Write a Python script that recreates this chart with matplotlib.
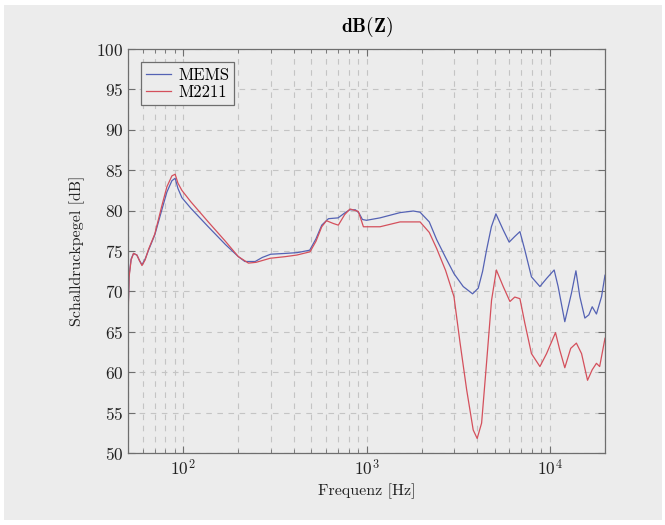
import numpy as np
import matplotlib.pyplot as plt
from matplotlib.patches import Rectangle

plt.rcParams['font.family'] = 'serif'
plt.rcParams['font.serif'] = ['cmr10', 'DejaVu Serif']
plt.rcParams['mathtext.fontset'] = 'cm'
plt.rcParams['axes.formatter.use_mathtext'] = True

mems_f = [50, 50.7, 52, 53.6, 55.9, 57.8, 59.6, 62, 64.7, 70, 76.5, 81.5,
          86.8, 90.4, 93.6, 98.4, 110, 137, 170, 200, 217, 247, 270, 300,
          360, 420, 490, 530, 570, 620, 700, 760, 810, 870, 910, 950, 1000,
          1185, 1524, 1800, 1960, 2200, 2415, 2700, 3000, 3370, 3790, 4070,
          4300, 4515, 4800, 5080, 5570, 6000, 6440, 6870, 7310, 7940, 8830,
          9600, 10560, 11100, 12070, 13130, 13880, 14580, 15530, 16330,
          17030, 17960, 19150, 20000]
mems_db = [67.0, 72.0, 74.0, 74.7, 74.5, 73.8, 73.3, 74.0, 75.1, 77.0, 80.1,
           82.3, 83.7, 84.0, 82.75, 81.6, 80.3, 78.0, 75.8, 74.3, 73.7, 73.7,
           74.2, 74.6, 74.7, 74.8, 75.1, 76.5, 78.2, 79.0, 79.1, 79.7, 80.1,
           80.1, 79.7, 78.9, 78.8, 79.1, 79.75, 79.95, 79.8, 78.6, 76.4, 74.2,
           72.2, 70.6, 69.7, 70.4, 72.5, 75.1, 78.0, 79.6, 77.6, 76.1, 76.8,
           77.4, 75.1, 71.8, 70.6, 71.6, 72.65, 70.6, 66.25, 69.8, 72.55, 69.35,
           66.7, 67.1, 68.1, 67.2, 69.35, 72.0]

m2211_f = [50, 50.7, 52, 53.6, 55.9, 57.8, 59.6, 62, 64.7, 70, 76.5, 81.5,
           86.8, 90.4, 93.6, 98.4, 110, 137, 170, 200, 227, 250, 298, 360,
           417, 492, 530, 570, 605, 660, 702, 760, 813, 902, 940, 962, 1185,
           1524, 1960, 2200, 2415, 2700, 3000, 3240, 3520, 3820, 4015, 4245,
           4515, 4810, 5110, 5570, 6060, 6440, 6870, 7310, 7940, 8830, 9600,
           10740, 11330, 12070, 13000, 13960, 14900, 16060, 17030, 17960,
           18700, 20000]
m2211_db = [66.5, 71.8, 73.9, 74.7, 74.5, 73.8, 73.2, 73.9, 75.2, 77.1, 80.6,
            82.95, 84.3, 84.5, 83.4, 82.5, 81.1, 78.6, 76.2, 74.3, 73.5, 73.6,
            74.1, 74.3, 74.5, 74.9, 76.2, 78.0, 78.75, 78.4, 78.2, 79.5, 80.2,
            79.9, 78.7, 78.0, 78.0, 78.6, 78.6, 77.3, 75.3, 72.6, 69.35, 63.6,
            57.8, 52.85, 51.8, 53.7, 61.1, 68.9, 72.65, 70.6, 68.75, 69.3, 69.1,
            66.05, 62.3, 60.7, 62.3, 64.9, 62.75, 60.55, 62.95, 63.6, 62.3, 59.0,
            60.3, 61.1, 60.7, 64.2]

bg = '#ececec'
edge = '#6e6e6e'

fig = plt.figure(figsize=(6.65, 5.25), dpi=100)
fig.patch.set_facecolor('white')
fig.patches.append(Rectangle((4/665, 5/525), 658/665, 515/525, transform=fig.transFigure,
                             facecolor=bg, edgecolor='none', zorder=-10))

ax = fig.add_axes([128/665, 1 - 453/525, 477/665, 404/525])
ax.set_facecolor(bg)

ax.plot(mems_f, mems_db, color='#5462b4', lw=0.9, label='MEMS')
ax.plot(m2211_f, m2211_db, color='#d4505c', lw=0.9, label='M2211')

ax.set_xscale('log')
ax.set_xlim(50, 20000)
ax.set_ylim(50, 100)
ax.set_yticks(np.arange(50, 101, 5))

ax.grid(True, which='both', axis='x', ls=(0, (5, 5)), color='#c4c4c4', lw=0.8)
ax.grid(True, which='major', axis='y', ls=(0, (5, 5)), color='#c4c4c4', lw=0.8)
ax.set_axisbelow(True)

for s in ax.spines.values():
    s.set_color(edge)
    s.set_linewidth(0.9)
ax.tick_params(which='both', direction='in', top=True, right=True, color=edge,
               labelsize=12.5, labelcolor='#222222')
ax.tick_params(which='major', length=5)
ax.tick_params(which='minor', length=3)

ax.set_xlabel('Frequenz [Hz]', fontsize=11.5, labelpad=4, color='#222222')
ax.set_ylabel('Schalldruckpegel [dB]', fontsize=11.5, labelpad=8, color='#222222')
ax.set_title(r'$\mathbf{dB(Z)}$', fontsize=14, pad=12)

leg = ax.legend(loc='upper left', fancybox=False, edgecolor=edge, facecolor=bg,
                framealpha=1, fontsize=12, handlelength=1.5, borderaxespad=0.8,
                labelspacing=0.1, borderpad=0.3, handletextpad=0.4)
leg.get_frame().set_linewidth(0.9)

fig.savefig('out.png', dpi=100, facecolor=fig.get_facecolor())
